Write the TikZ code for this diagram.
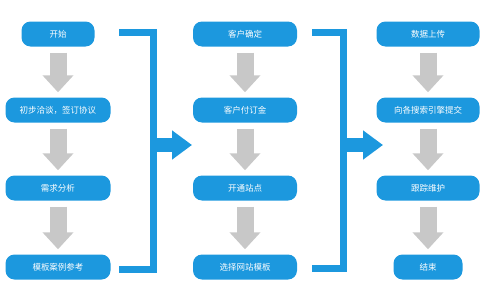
\documentclass[tikz,border=0pt]{standalone}
\usepackage{fontspec}
\newfontfamily\cjk{Noto Sans CJK SC}
\usetikzlibrary{arrows.meta}
\definecolor{blu}{HTML}{1C98DE}
\definecolor{grigio}{HTML}{C8C8C8}
\tikzset{
  passo/.style={rounded corners=9pt, fill=blu, text=white, minimum height=25pt, inner sep=0pt, font=\cjk\fontsize{8.5}{10}\selectfont},
  freccia/.style={draw=grigio, line width=17pt, -{Triangle[width=30pt,length=17pt]}, shorten <=6pt, shorten >=5pt},
  staffa/.style={draw=blu, line width=7pt},
  uscita/.style={draw=blu, line width=14pt, -{Triangle[width=28pt,length=20pt]}}
}
\begin{document}
\begin{tikzpicture}[x=1pt, y=-1pt]
        \useasboundingbox (0,0) rectangle (480,300);
        %disegno nodi prima colonna
        \node[passo, minimum width=73pt] (a1) at (58,34) {开始};
        \node[passo, minimum width=105pt] (a2) at (58,110) {初步洽谈，签订协议};
        \node[passo, minimum width=105pt] (a3) at (58,188) {需求分析};
        \node[passo, minimum width=105pt] (a4) at (58,267) {模板案例参考};
        %disegno nodi seconda colonna
        \node[passo, minimum width=104pt] (b1) at (245,34) {客户确定};
        \node[passo, minimum width=104pt] (b2) at (245,110) {客户付订金};
        \node[passo, minimum width=104pt] (b3) at (245,188) {开通站点};
        \node[passo, minimum width=104pt] (b4) at (245,267) {选择网站模板};
        %disegno nodi terza colonna
        \node[passo, minimum width=103pt] (c1) at (428,34) {数据上传};
        \node[passo, minimum width=103pt] (c2) at (428,110) {向各搜索引擎提交};
        \node[passo, minimum width=103pt] (c3) at (428,188) {跟踪维护};
        \node[passo, minimum width=69pt] (c4) at (428,267) {结束};
        %disegno frecce grigie
        \draw[freccia] (a1) -- (a2);
        \draw[freccia] (a2) -- (a3);
        \draw[freccia] (a3) -- (a4);
        \draw[freccia] (b1) -- (b2);
        \draw[freccia] (b2) -- (b3);
        \draw[freccia] (b3) -- (b4);
        \draw[freccia] (c1) -- (c2);
        \draw[freccia] (c2) -- (c3);
        \draw[freccia] (c3) -- (c4);
        %disegno staffe blu
        \coordinate (s1a) at (119,32);
        \coordinate (s1b) at (119,269);
        \coordinate (s1v) at (153,145);
        \coordinate (p1) at (192,145);
        \draw[staffa] (s1a) -- (s1a -| s1v) -- (s1b -| s1v) -- (s1b);
        \draw[uscita] (s1v) -- (p1);
        \coordinate (s2a) at (312,32);
        \coordinate (s2b) at (312,268);
        \coordinate (s2v) at (343,145);
        \coordinate (p2) at (383,145);
        \draw[staffa] (s2a) -- (s2a -| s2v) -- (s2b -| s2v) -- (s2b);
        \draw[uscita] (s2v) -- (p2);
    \end{tikzpicture}
\end{document}
